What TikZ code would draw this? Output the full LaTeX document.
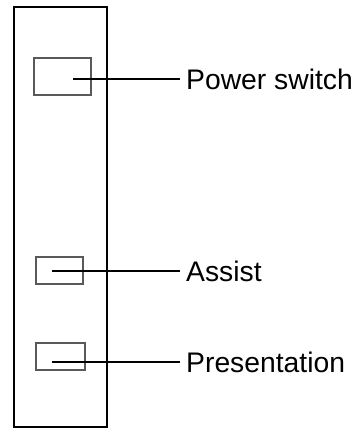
\documentclass[tikz,border=0pt]{standalone}
\usepackage{fontspec}
\setmainfont{Liberation Sans}
\usepackage{tikz}
\usetikzlibrary{positioning}

\begin{document}
\begin{tikzpicture}[
      x=1pt, y=-1pt,
      font=\fontsize{28.3}{30}\selectfont,
      panel/.style={draw=black, line width=1.3pt},
      btn/.style={draw=black!65, line width=2.2pt, minimum width=#1, minimum height=27pt, inner sep=0pt},
      lbl/.style={anchor=west, inner xsep=6pt, inner ysep=0pt, text height=20.3pt, text depth=0pt},
      lead/.style={line width=1.3pt}
    ]
    \useasboundingbox (0,0) rectangle (354,428);
    % panel
    \draw[panel] (14,7) rectangle (107,427);
    % buttons
    \node[btn=57pt, minimum height=37pt] (pwr) at (62.5,76.5) {};
    \node[btn=47pt] (ast) at (59.5,270.5) {};
    \node[btn=49pt] (prs) at (60.5,356.5) {};
    % labels
    \node[lbl] (pwrl) at (180,79) {Power switch};
    \node[lbl] (astl) at (180,271) {Assist};
    \node[lbl] (prsl) at (180,362) {Presentation};
    \coordinate (pwrs) at (73,79);
    \coordinate (asts) at (52,271);
    \coordinate (prss) at (52,362);
    \draw[lead] (pwrs) -- (pwrl.west);
    \draw[lead] (asts) -- (astl.west);
    \draw[lead] (prss) -- (prsl.west);
  \end{tikzpicture}
\end{document}
